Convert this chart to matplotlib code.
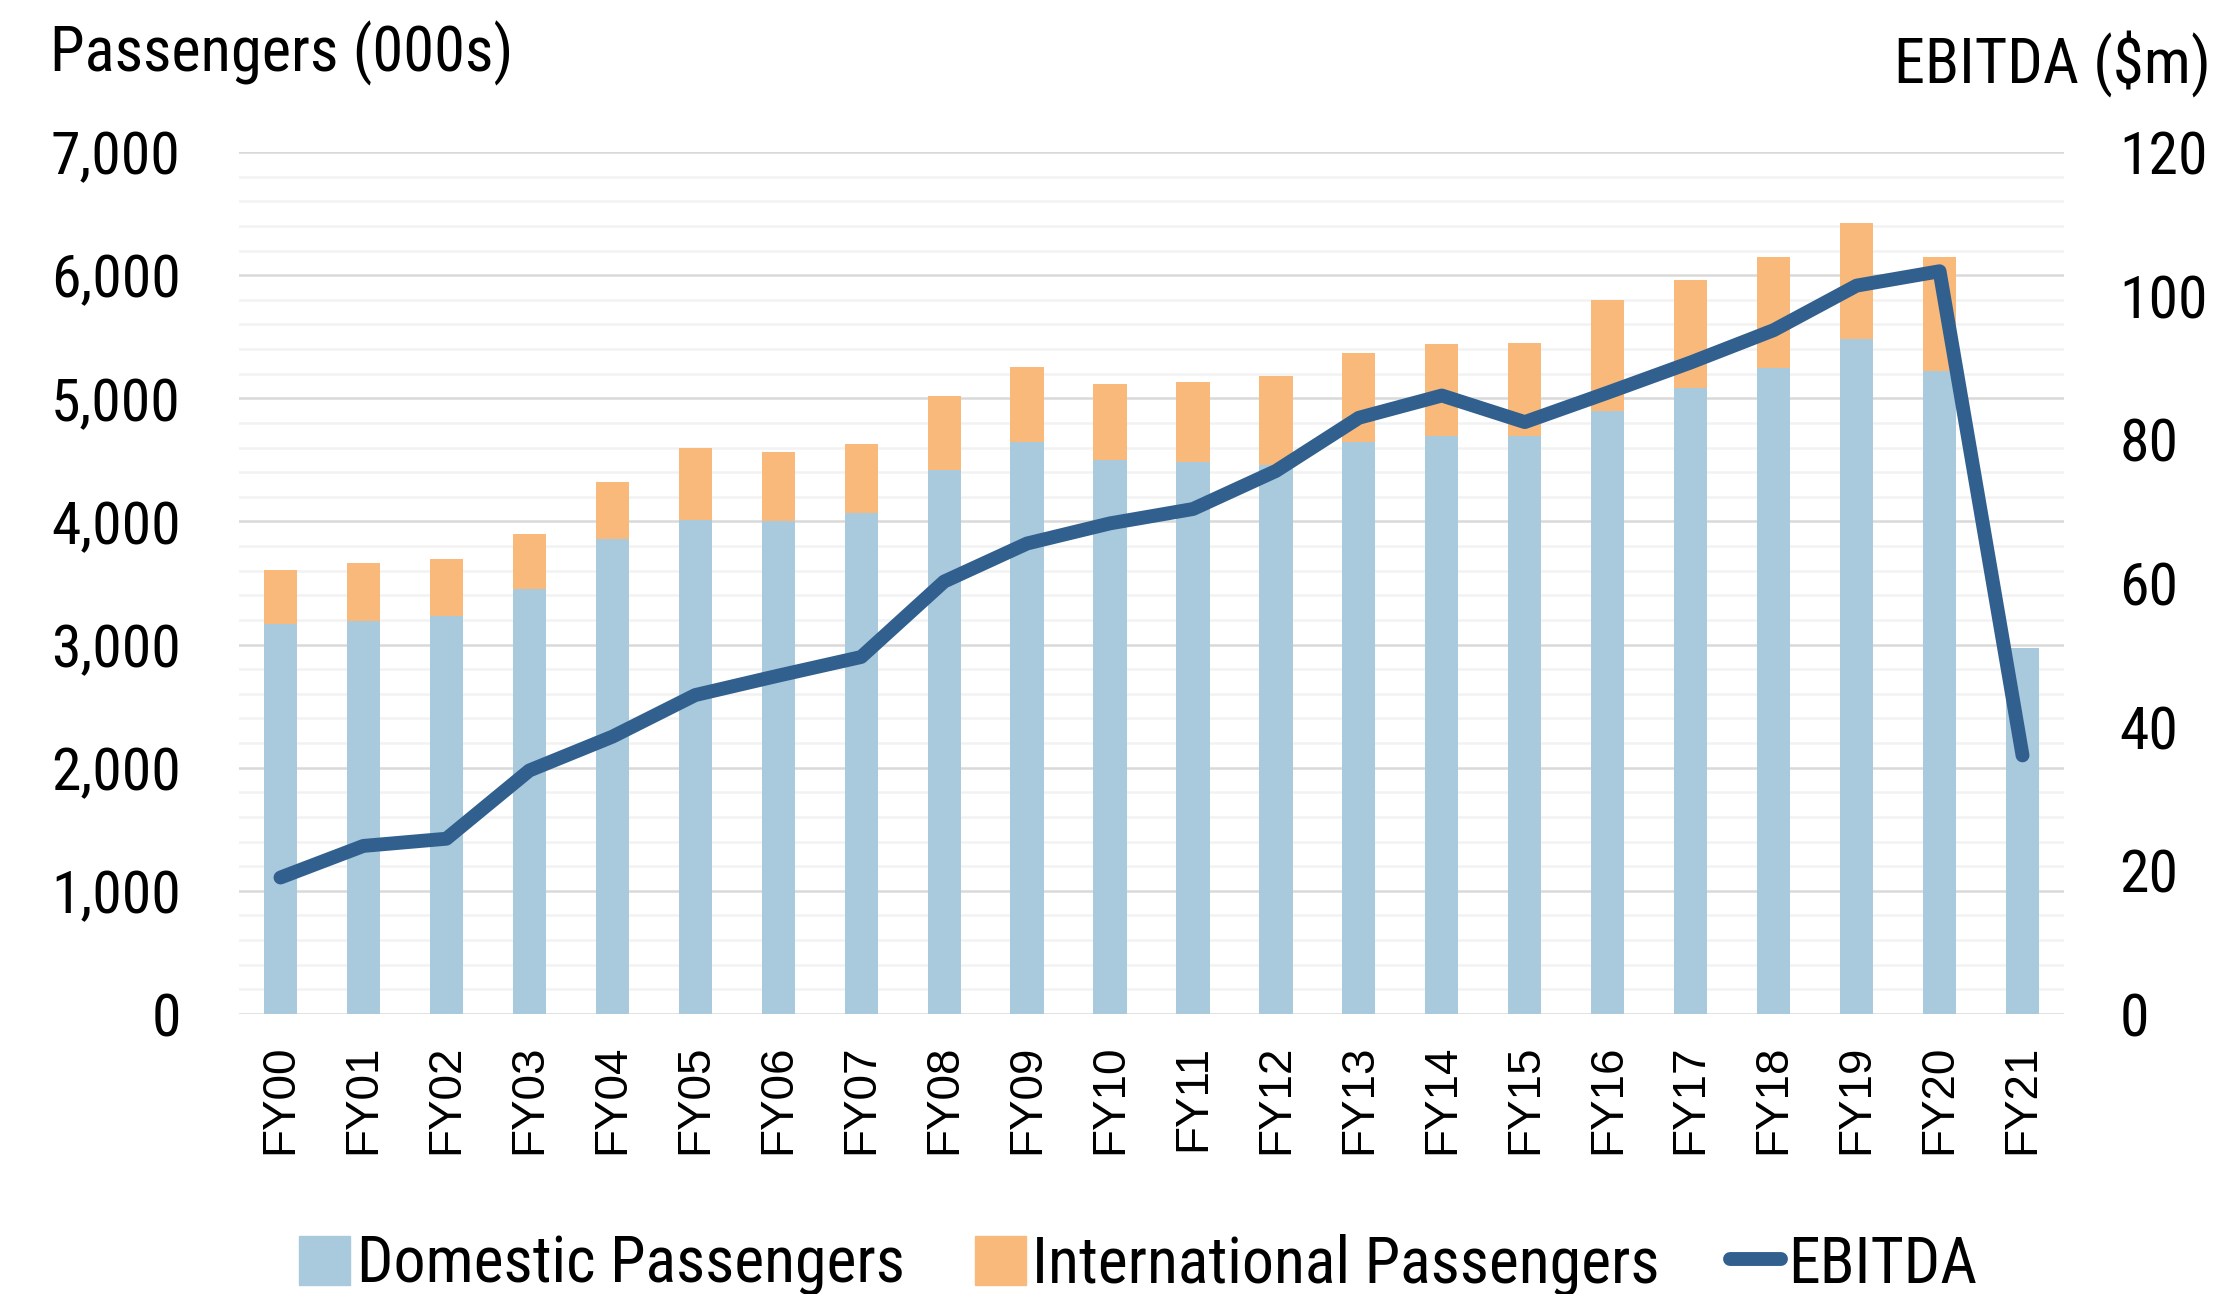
import numpy as np
import matplotlib
matplotlib.use("Agg")
import matplotlib.pyplot as plt
from matplotlib.patches import Patch
from matplotlib.lines import Line2D

# data
years = ['FY00', 'FY01', 'FY02', 'FY03', 'FY04', 'FY05', 'FY06', 'FY07', 'FY08', 'FY09', 'FY10',
         'FY11', 'FY12', 'FY13', 'FY14', 'FY15', 'FY16', 'FY17', 'FY18', 'FY19', 'FY20', 'FY21']
domestic = [3165, 3190, 3235, 3455, 3860, 4010, 4000, 4065, 4415, 4645, 4495,
            4485, 4460, 4645, 4690, 4690, 4900, 5080, 5245, 5485, 5220, 2970]
international = [440, 470, 460, 440, 460, 590, 565, 565, 600, 610, 620,
                 645, 725, 725, 750, 760, 900, 880, 900, 935, 925, 0]
ebitda = [19.0, 23.4, 24.4, 33.9, 38.6, 44.4, 47.1, 49.7, 60.2, 65.5, 68.3,
          70.3, 75.6, 83.0, 86.1, 82.4, 86.5, 90.7, 95.2, 101.4, 103.4, 36.0]

c_dom = '#a9cadd'
c_int = '#f9b97b'
c_line = '#31608f'
txt_font = ['Roboto Condensed', 'Liberation Sans Narrow', 'Roboto', 'DejaVu Sans']

W, H = 2229, 1294
fig = plt.figure(figsize=(W / 100, H / 100), dpi=100)
ax = fig.add_axes([239 / W, (H - 1014) / H, 1825 / W, 862 / H])
ax2 = ax.twinx()

x = np.arange(len(years))
ax.bar(x, domestic, width=0.4, color=c_dom, zorder=2)
ax.bar(x, international, width=0.4, bottom=domestic, color=c_int, zorder=2)
ax2.plot(x, ebitda, color=c_line, lw=10, solid_capstyle='round', solid_joinstyle='round')

ax.set_xlim(-0.5, len(years) - 0.5)
ax.set_ylim(0, 7000)
ax2.set_ylim(0, 120)
ax.set_yticks(range(0, 7001, 1000))
ax.set_yticks(range(0, 7001, 200), minor=True)
ax2.set_yticks(range(0, 121, 20))
ax.set_yticklabels([f'{v:,}' for v in range(0, 7001, 1000)], family=txt_font, fontsize=43)
ax2.set_yticklabels([str(v) for v in range(0, 121, 20)], family=txt_font, fontsize=43)
ax.set_xticks(x)
ax.set_xticklabels(years, rotation=90, family='Liberation Sans', fontsize=33, va='top')

ax.grid(which='major', axis='y', color='#d9d9d9', lw=1.8)
ax.grid(which='minor', axis='y', color='#f2f2f2', lw=1.8)
ax.set_axisbelow(True)
ax.tick_params(which='both', length=0)
ax.tick_params(axis='y', pad=42)
ax.tick_params(axis='x', pad=22)
ax2.tick_params(which='both', length=0, pad=40)
for a in (ax, ax2):
    for s in a.spines.values():
        s.set_visible(False)

fig.text(50 / W, 1 - 53 / H, 'Passengers (000s)', family=txt_font, fontsize=45, va='center', ha='left')
fig.text(2211 / W, 1 - 64 / H, 'EBITDA ($m)', family=txt_font, fontsize=45, va='center', ha='right')

handles = [Patch(color=c_dom), Patch(color=c_int), Line2D([], [], color=c_line, lw=10, solid_capstyle='round')]
labels = ['Domestic Passengers', 'International Passengers', 'EBITDA']
fig.legend(handles, labels, loc='center', bbox_to_anchor=(1138 / W, 1 - 1265 / H), ncol=3,
           frameon=False, prop={'family': txt_font, 'size': 46},
           handlelength=0.8, handleheight=0.8, handletextpad=0.1, columnspacing=1.1)

fig.savefig('out.png', dpi=100)
